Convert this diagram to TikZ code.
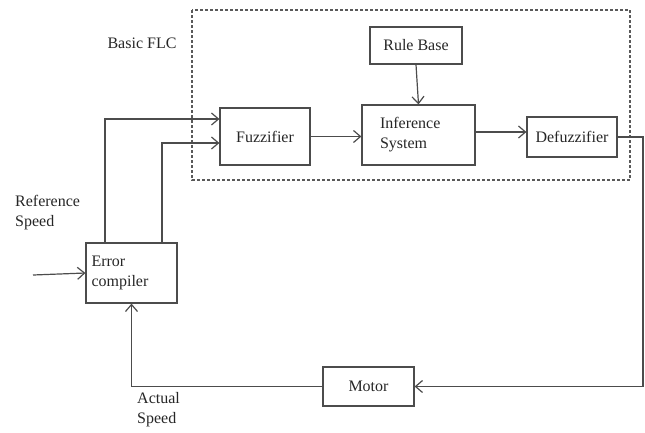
\documentclass[tikz,border=0pt]{standalone}
\usepackage{fontspec}
\setmainfont{Liberation Serif}
\usetikzlibrary{arrows.meta}
\begin{document}
\begin{tikzpicture}[x=1pt, y=-1pt, every node/.style={font=\fontsize{16}{20}\selectfont, text=black!85}, blk/.style={draw=black!70, line width=1.2pt, inner sep=3pt}, arr/.style={draw=black!70, line width=1.2pt, -{Straight Barb[length=7pt,width=12pt]}}, lbl/.style={align=left, inner sep=0pt}]
\useasboundingbox (0,0) rectangle (645,432);
% the fuzzy controller frame
\draw[black!65, line width=1.2pt, dash pattern=on 3pt off 2pt] (192,10) rectangle (630,180);
\node[lbl] (flc) at (142,43) {Basic FLC};
% blocks
\node[blk, minimum width=90, minimum height=57] (FZ) at (265,136.5) {Fuzzifier};
\node[blk, minimum width=92, minimum height=37] (RB) at (416,45.5) {Rule Base};
\node[blk, minimum width=113, minimum height=60, text width=77, align=left] (IS) at (418.5,135) {Inference\\System};
\node[blk, minimum width=90, minimum height=40] (DF) at (572,137) {Defuzzifier};
\node[blk, minimum width=91, minimum height=60, text width=80, align=left] (EC) at (131.5,273) {Error\\compiler};
\node[blk, minimum width=91, minimum height=39] (MO) at (368.5,386.5) {Motor};
% labels
\node[lbl, anchor=west] (ref) at (15,213) {Reference\\Speed};
\node[lbl, anchor=west] (act) at (137,410) {Actual\\Speed};
% connectors
\coordinate (in) at (33,275); \coordinate (c1) at (643,137);
\draw[arr] (in) -- (EC.west);
\draw[arr] ([xshift=-26.5pt]EC.north) |- ([yshift=17.5pt]FZ.west);
\draw[arr] ([xshift=30.5pt]EC.north) |- ([yshift=-6.5pt]FZ.west);
\draw[arr] (FZ.east) -- (FZ.east -| IS.west);
\draw[arr] (RB.south) -- (IS.north);
\draw[arr] ([yshift=3pt]IS.east) -- ([yshift=3pt]IS.east -| DF.west);
\draw[arr] (DF.east) -- (c1) |- (MO.east);
\draw[arr] (MO.west) -| (EC.south);
\end{tikzpicture}
\end{document}
